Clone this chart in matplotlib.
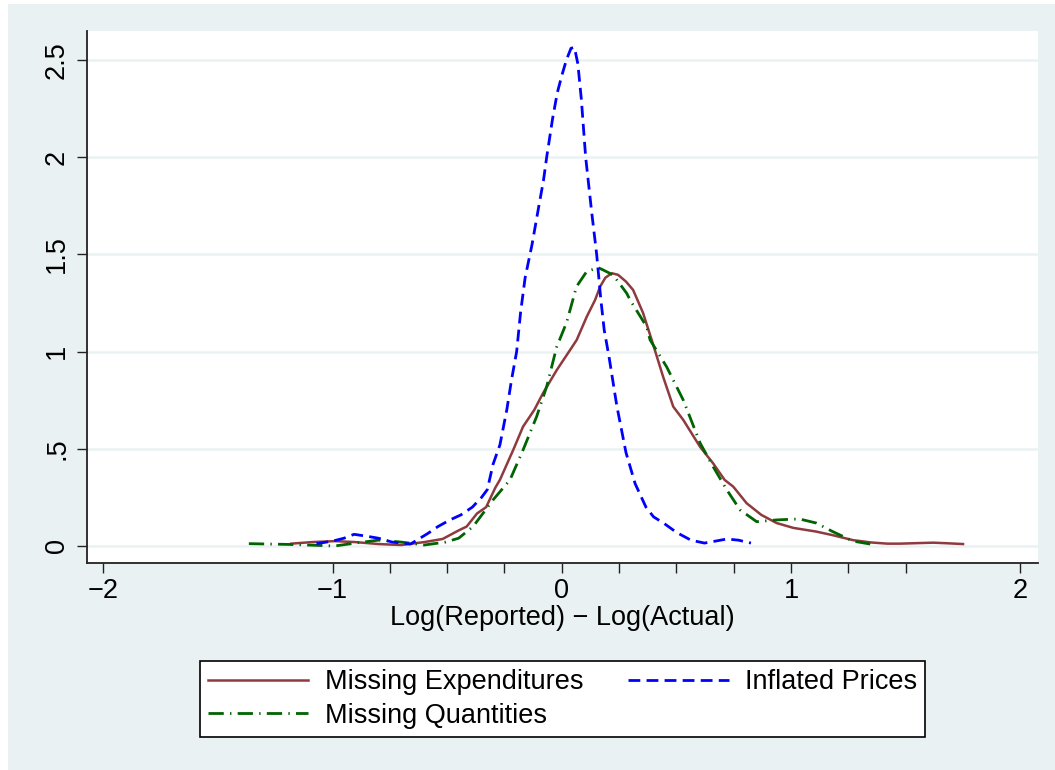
import matplotlib
matplotlib.use("Agg")
import matplotlib.pyplot as plt
from matplotlib.patches import Rectangle
from matplotlib.ticker import FixedLocator

plt.rcParams['font.family'] = ['Liberation Sans', 'DejaVu Sans']
plt.rcParams['lines.scale_dashes'] = False

# ---- data ----
exp_x = [-1.18, -1.09, -0.99, -0.9, -0.8, -0.7, -0.6, -0.52, -0.45, -0.415, -0.37, -0.33, -0.29,
         -0.27, -0.212, -0.169, -0.12, -0.082, -0.022, 0.036, 0.065, 0.109, 0.145, 0.167, 0.19,
         0.218, 0.245, 0.28, 0.311, 0.354, 0.392, 0.442, 0.486, 0.53, 0.603, 0.66, 0.71, 0.748,
         0.806, 0.87, 0.937, 1.01, 1.11, 1.18, 1.27, 1.35, 1.42, 1.475, 1.56, 1.62, 1.68, 1.75]
exp_y = [0.012, 0.02, 0.025, 0.02, 0.01, 0.005, 0.02, 0.036, 0.08, 0.1, 0.167, 0.2, 0.3,
         0.34, 0.494, 0.614, 0.7, 0.786, 0.905, 1.008, 1.06, 1.18, 1.265, 1.334, 1.38,
         1.403, 1.395, 1.36, 1.317, 1.2, 1.06, 0.87, 0.717, 0.648, 0.51, 0.425, 0.34, 0.305,
         0.22, 0.16, 0.118, 0.093, 0.074, 0.056, 0.03, 0.018, 0.012, 0.012, 0.015, 0.017, 0.014, 0.01]

qty_x = [-1.365, -1.19, -0.99, -0.9, -0.8, -0.7, -0.6, -0.507, -0.45, -0.387, -0.3, -0.226,
         -0.169, -0.11, -0.066, -0.022, 0.021, 0.064, 0.108, 0.158, 0.18, 0.224, 0.283, 0.298,
         0.37, 0.385, 0.457, 0.53, 0.603, 0.66, 0.72, 0.778, 0.85, 0.937, 1.01, 1.04, 1.11,
         1.18, 1.27, 1.345]
qty_y = [0.012, 0.008, 0.0, 0.015, 0.03, 0.02, 0.005, 0.02, 0.04, 0.1, 0.237, 0.34,
         0.494, 0.665, 0.82, 1.025, 1.15, 1.334, 1.411, 1.432, 1.42, 1.394, 1.3, 1.265,
         1.128, 1.06, 0.922, 0.75, 0.53, 0.408, 0.288, 0.185, 0.125, 0.134, 0.138, 0.138, 0.118,
         0.075, 0.025, 0.01]

prc_x = [-1.07, -1.0, -0.95, -0.906, -0.85, -0.8, -0.74, -0.66, -0.585, -0.54, -0.488, -0.44,
         -0.39, -0.35, -0.325, -0.3, -0.27, -0.24, -0.22, -0.197, -0.18, -0.16, -0.13, -0.1,
         -0.08, -0.066, -0.04, -0.02, 0.0, 0.02, 0.04, 0.055, 0.07, 0.085, 0.104, 0.13, 0.152,
         0.17, 0.185, 0.205, 0.24, 0.28, 0.32, 0.367, 0.4, 0.446, 0.5, 0.563, 0.622, 0.67,
         0.72, 0.77, 0.825]
prc_y = [0.012, 0.025, 0.04, 0.06, 0.05, 0.04, 0.02, 0.01, 0.064, 0.1, 0.134, 0.16,
         0.2, 0.25, 0.29, 0.42, 0.52, 0.7, 0.85, 1.0, 1.2, 1.38, 1.55, 1.75,
         1.88, 2.0, 2.2, 2.33, 2.42, 2.5, 2.56, 2.565, 2.48, 2.3, 2.0, 1.72, 1.5,
         1.27, 1.11, 0.98, 0.72, 0.48, 0.32, 0.2, 0.15, 0.116, 0.07, 0.03, 0.015, 0.025,
         0.036, 0.03, 0.015]

labels = ["Missing Expenditures", "Missing Quantities", "Inflated Prices"]
xticks = [-2, -1, 0, 1, 2]
xtick_labels = ["\u22122", "\u22121", "0", "1", "2"]
xminor = [-0.75, -0.5, -0.25, 0.25, 0.5, 0.75, 1.25, 1.5]
yticks = [0, 0.5, 1, 1.5, 2, 2.5]
ytick_labels = ["0", ".5", "1", "1.5", "2", "2.5"]
xlabel = "Log(Reported) \u2212 Log(Actual)"

# ---- figure ----
W, H = 1055, 770
BG = "#EAF1F3"
fig = plt.figure(figsize=(W / 100, H / 100), dpi=100, facecolor=BG)
# white strips at top and left edges of the reference image
fig.patches.append(Rectangle((0, 1 - 4 / H), 1, 4 / H, transform=fig.transFigure,
                             facecolor="white", edgecolor="none", zorder=-10))
fig.patches.append(Rectangle((0, 0), 8 / W, 1, transform=fig.transFigure,
                             facecolor="white", edgecolor="none", zorder=-10))

ax = fig.add_axes([87 / W, 1 - 562.7 / H, (1038 - 87) / W, (562.7 - 31) / H])
ax.set_facecolor("white")

l1, = ax.plot(exp_x, exp_y, color="#8E3A3E", lw=1.8, solid_joinstyle="round")
l2, = ax.plot(qty_x, qty_y, color="#006400", lw=2.0, linestyle=(0, (11, 4.5, 1, 4.5)))
l3, = ax.plot(prc_x, prc_y, color="#0000FF", lw=2.0, linestyle=(0, (8.5, 4.5)))

ax.set_xlim(-2.071, 2.077)
ax.set_ylim(-0.086, 2.649)

for s in ["top", "right"]:
    ax.spines[s].set_visible(False)
for s in ["left", "bottom"]:
    ax.spines[s].set_color("#222222")
    ax.spines[s].set_linewidth(1.3)

ax.set_yticks(yticks)
ax.set_yticklabels(ytick_labels, rotation=90, va="center")
ax.set_xticks(xticks)
ax.set_xticklabels(xtick_labels)
ax.xaxis.set_minor_locator(FixedLocator(xminor))
ax.tick_params(axis="both", which="both", direction="out", length=7.2, width=1.0,
               color="#222222", labelsize=19.5, pad=3.5)
ax.tick_params(axis="y", pad=5)
ax.yaxis.grid(True, color=BG, lw=1.8)
ax.set_axisbelow(True)

ax.set_xlabel(xlabel, fontsize=19.5, labelpad=1)

leg = fig.legend([l1, l2, l3], labels, ncol=2, loc="lower left",
                 bbox_to_anchor=(200 / W, 1 - 737 / H, 725 / W, 84 / H), mode="expand",
                 borderaxespad=0, fontsize=19.5, handlelength=3.7, handletextpad=0.6,
                 labelspacing=0.28, borderpad=0.3, fancybox=False, framealpha=1,
                 edgecolor="black", facecolor="white")
leg.get_frame().set_linewidth(1.2)

fig.savefig("out.png", dpi=100, facecolor=fig.get_facecolor())
